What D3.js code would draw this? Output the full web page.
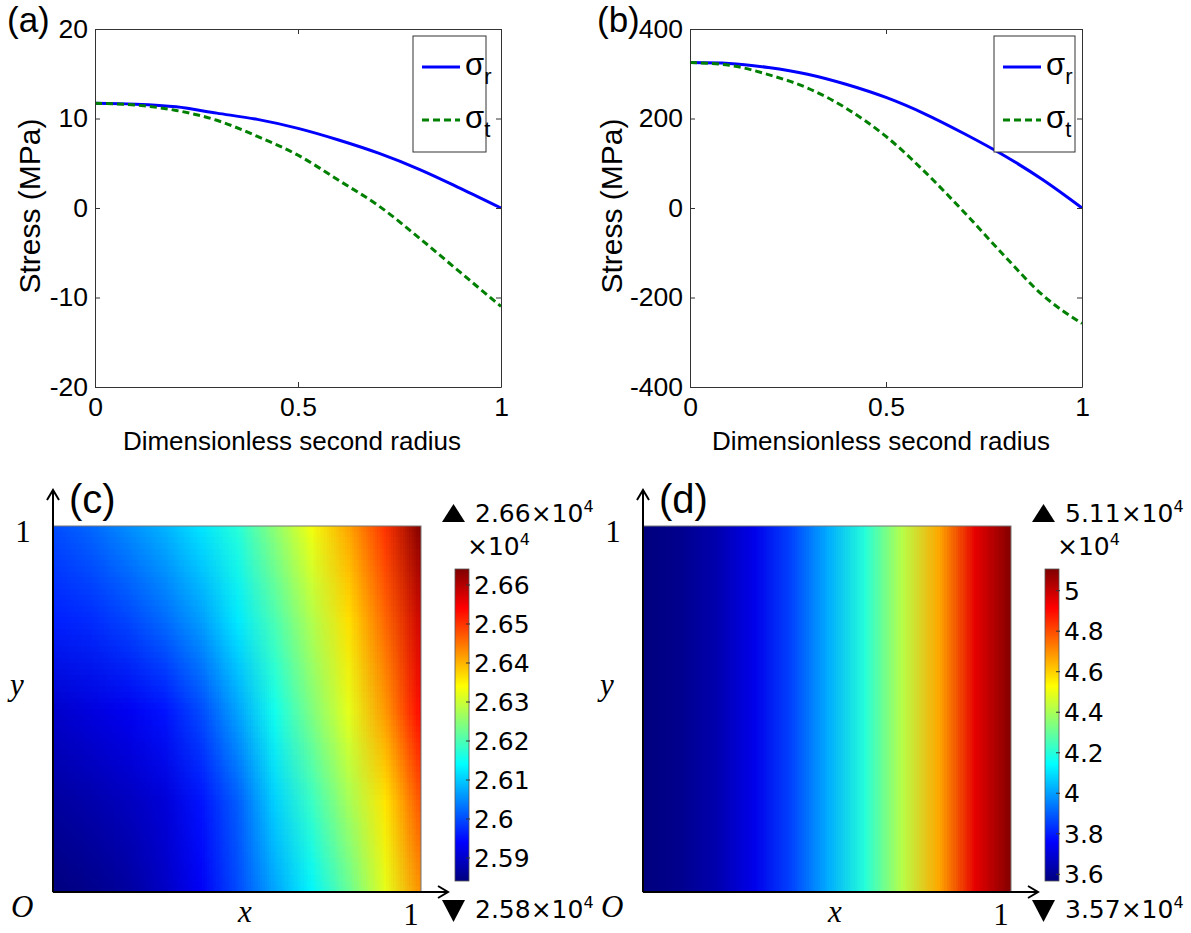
<!DOCTYPE html>
<html>
<head>
<meta charset="utf-8">
<script src="https://cdn.jsdelivr.net/npm/d3@7"></script>
<style>
  body { margin: 0; background: #fff; }
  svg { display: block; }
</style>
</head>
<body>
<div class="chart"></div>
<script>
// ---- line plots (a) and (b) ----
var radius = [0, 0.1, 0.2, 0.3, 0.4, 0.5, 0.6, 0.7, 0.8, 0.9, 1];
var sigmaRA = [11.7, 11.6, 11.3, 10.6, 9.9, 8.9, 7.6, 6.1, 4.3, 2.2, 0];
var sigmaTA = [11.7, 11.5, 10.9, 9.8, 8.0, 5.9, 3.1, 0.2, -3.4, -7.2, -11.0];
var sigmaRB = [325, 323, 314, 299, 276, 247, 210, 166, 118, 63, 0];
var sigmaTB = [325, 319, 298, 268, 222, 160, 80, -10, -105, -195, -258];
var xTicks = [0, 0.5, 1];
var yTicksA = [-20, -10, 0, 10, 20];
var yTicksB = [-400, -200, 0, 200, 400];

// ---- fields (c) and (d), values in units of 10^4 ----
var fieldX = [0, 0.1, 0.2, 0.3, 0.4, 0.5, 0.6, 0.7, 0.8, 0.9, 1];
var fieldYC = [1, 0.75, 0.5, 0.25, 0];
var fieldC = [
  [2.6000, 2.6020, 2.6050, 2.6080, 2.6120, 2.6170, 2.6250, 2.6330, 2.6410, 2.6500, 2.6641],
  [2.5965, 2.5975, 2.5995, 2.6025, 2.6065, 2.6125, 2.6200, 2.6280, 2.6365, 2.6460, 2.6580],
  [2.5900, 2.5915, 2.5930, 2.5955, 2.6000, 2.6070, 2.6155, 2.6240, 2.6320, 2.6420, 2.6540],
  [2.5865, 2.5875, 2.5890, 2.5910, 2.5955, 2.6015, 2.6105, 2.6185, 2.6270, 2.6360, 2.6480],
  [2.5841, 2.5850, 2.5865, 2.5895, 2.5935, 2.6000, 2.6070, 2.6135, 2.6220, 2.6320, 2.6430]
];
var fieldYD = [1];
var fieldD = [
  [3.567, 3.590, 3.640, 3.730, 3.860, 4.020, 4.200, 4.420, 4.660, 4.950, 5.107]
];
var cbarTicksC = [2.59, 2.6, 2.61, 2.62, 2.63, 2.64, 2.65, 2.66];
var cbarTicksD = [3.6, 3.8, 4, 4.2, 4.4, 4.6, 4.8, 5];

var jetStops = [0, 0.125, 0.375, 0.625, 0.875, 1];
var jetColors = ['#00007f', '#0000ff', '#00ffff', '#ffff00', '#ff0000', '#7f0000'];

var SANS = '"Liberation Sans", Arial, sans-serif';
var SERIF = '"Liberation Serif", "Times New Roman", serif';
var DEJA = '"DejaVu Sans", sans-serif';

var svg = d3.select('.chart').append('svg')
    .attr('width', 1191)
    .attr('height', 933);
svg.append('rect').attr('width', 1191).attr('height', 933).attr('fill', '#fff');

function plain(d) { return String(d); }
function blank() { return ''; }

function drawPlot(p) {
  var g = svg.append('g').attr('transform', 'translate(' + p.left + ',' + p.top + ')');
  var x = d3.scaleLinear().domain([0, 1]).range([0, p.width]);
  var y = d3.scaleLinear().domain(d3.extent(p.yTicks)).range([p.height, 0]);

  // curves
  var line = d3.line()
      .x(function(d) { return x(d[0]); })
      .y(function(d) { return y(d[1]); })
      .curve(d3.curveMonotoneX);
  g.append('path')
      .datum(d3.zip(radius, p.sr))
      .attr('d', line)
      .attr('fill', 'none')
      .attr('stroke', '#0000ff')
      .attr('stroke-width', 3);
  g.append('path')
      .datum(d3.zip(radius, p.st))
      .attr('d', line)
      .attr('fill', 'none')
      .attr('stroke', '#008000')
      .attr('stroke-width', 3)
      .attr('stroke-dasharray', '7,4');

  // matlab style box with inward ticks
  var axes = [
    g.append('g').attr('transform', 'translate(0,' + p.height + ')')
      .call(d3.axisBottom(x).tickValues(xTicks).tickFormat(plain).tickSizeInner(-5).tickSizeOuter(0).tickPadding(10)),
    g.append('g')
      .call(d3.axisTop(x).tickValues(xTicks).tickFormat(blank).tickSizeInner(-5).tickSizeOuter(0)),
    g.append('g')
      .call(d3.axisLeft(y).tickValues(p.yTicks).tickFormat(plain).tickSizeInner(-5).tickSizeOuter(0).tickPadding(7)),
    g.append('g').attr('transform', 'translate(' + p.width + ',0)')
      .call(d3.axisRight(y).tickValues(p.yTicks).tickFormat(blank).tickSizeInner(-5).tickSizeOuter(0))
  ];
  axes.forEach(function(a) {
    a.attr('font-family', SANS).attr('font-size', 26.5);
    a.selectAll('path, line').attr('stroke', '#333');
    a.selectAll('text').attr('fill', '#000');
  });

  // labels
  g.append('text')
      .attr('x', p.xLabelX).attr('y', 421)
      .attr('text-anchor', 'middle')
      .attr('font-family', SANS).attr('font-size', 26)
      .text('Dimensionless second radius');
  g.append('text')
      .attr('transform', 'translate(' + p.yLabelX + ',' + (p.height / 2 - 2) + ') rotate(-90)')
      .attr('text-anchor', 'middle')
      .attr('font-family', SANS).attr('font-size', 30)
      .text('Stress (MPa)');
  svg.append('text')
      .attr('x', p.tagX).attr('y', 32)
      .attr('font-family', SANS).attr('font-size', 35)
      .text(p.tag);

  // legend
  var lg = svg.append('g').attr('transform', 'translate(' + p.legendX + ',36)');
  lg.append('rect')
      .attr('width', p.legendW).attr('height', 116)
      .attr('fill', '#fff').attr('stroke', '#333');
  var items = [
    { sub: 'r', color: '#0000ff', dash: null, y: 31 },
    { sub: 't', color: '#008000', dash: '7,4', y: 84 }
  ];
  items.forEach(function(it) {
    lg.append('line')
        .attr('x1', 9).attr('x2', 47).attr('y1', it.y).attr('y2', it.y)
        .attr('stroke', it.color).attr('stroke-width', 3)
        .attr('stroke-dasharray', it.dash);
    var t = lg.append('text')
        .attr('x', 52).attr('y', it.y + 8)
        .attr('font-family', SANS).attr('font-size', 31)
        .text('σ');
    t.append('tspan').attr('dy', 9).attr('font-size', 22).text(it.sub);
  });
}

drawPlot({ left: 95, top: 29, width: 406, height: 358, yTicks: yTicksA, sr: sigmaRA, st: sigmaTA,
  xLabelX: 197, yLabelX: -55, tag: '(a)', tagX: 7, legendX: 413, legendW: 73 });
drawPlot({ left: 690, top: 29, width: 392, height: 358, yTicks: yTicksB, sr: sigmaRB, st: sigmaTB,
  xLabelX: 191, yLabelX: -68, tag: '(b)', tagX: 597, legendX: 994, legendW: 81 });

// ---- colour fields ----
function fieldImage(grid, color, w, h) {
  var rows = grid.length, cols = grid[0].length;
  var src = document.createElement('canvas');
  src.width = cols; src.height = rows;
  var sctx = src.getContext('2d');
  var img = sctx.createImageData(cols, rows);
  grid.forEach(function(row, j) {
    row.forEach(function(v, i) {
      var c = d3.rgb(color(v));
      var k = 4 * (j * cols + i);
      img.data[k] = c.r; img.data[k + 1] = c.g; img.data[k + 2] = c.b; img.data[k + 3] = 255;
    });
  });
  sctx.putImageData(img, 0, 0);
  var out = document.createElement('canvas');
  out.width = Math.round(w); out.height = Math.round(h);
  var ctx = out.getContext('2d');
  ctx.imageSmoothingEnabled = true;
  ctx.imageSmoothingQuality = 'low';
  var sy = rows > 1 ? 0.5 : 0, sh = rows > 1 ? rows - 1 : 1;
  ctx.drawImage(src, 0.5, sy, cols - 1, sh, 0, 0, out.width, out.height);
  return out.toDataURL();
}

function supText(sel, x, y, main) {
  var t = sel.append('text').attr('x', x).attr('y', y)
      .attr('font-family', DEJA).attr('font-size', 25).text(main);
  t.append('tspan').attr('dy', -10).attr('font-size', 16).text('4');
}

function drawField(p) {
  var g = svg.append('g').attr('transform', 'translate(' + p.dx + ',0)');
  var ext = d3.extent(d3.merge(p.grid));
  var color = d3.scaleLinear()
      .domain(jetStops.map(function(t) { return ext[0] + t * (ext[1] - ext[0]); }))
      .range(jetColors)
      .clamp(true);
  var x = d3.scaleLinear().domain([0, 1]).range([53, 421]);
  var y = d3.scaleLinear().domain([0, 1]).range([892, 526]);

  var x0 = x(fieldX[0]), x1 = x(fieldX[fieldX.length - 1]);
  var yTop = y(1), yBot = y(0);
  g.append('image')
      .attr('x', x0).attr('y', yTop)
      .attr('width', x1 - x0).attr('height', yBot - yTop)
      .attr('preserveAspectRatio', 'none')
      .attr('href', fieldImage(p.grid, color, x1 - x0, yBot - yTop));
  g.append('rect')
      .attr('x', x0).attr('y', yTop)
      .attr('width', x1 - x0).attr('height', yBot - yTop)
      .attr('fill', 'none').attr('stroke', '#777').attr('stroke-width', 1);

  // arrow axes
  g.append('path')
      .attr('d', 'M' + x0 + ',' + yBot + 'V490M' + (x0 - 6) + ',500L' + x0 + ',490L' + (x0 + 6) + ',500')
      .attr('fill', 'none').attr('stroke', '#000').attr('stroke-width', 2);
  g.append('path')
      .attr('d', 'M' + x0 + ',' + yBot + 'H448M438,' + (yBot - 6) + 'L448,' + yBot + 'L438,' + (yBot + 6))
      .attr('fill', 'none').attr('stroke', '#000').attr('stroke-width', 2);

  var serif = function(tx, ty, s, italic, anchor) {
    g.append('text').attr('x', tx).attr('y', ty)
        .attr('font-family', SERIF).attr('font-size', 31)
        .attr('font-style', italic ? 'italic' : 'normal')
        .attr('text-anchor', anchor || 'middle')
        .text(s);
  };
  serif(23, 542, '1', false);
  serif(17, 695, 'y', true);
  serif(11, 917, 'O', true, 'start');
  serif(245, 922, 'x', true);
  serif(411, 925, '1', false);

  g.append('text').attr('x', 69).attr('y', 513)
      .attr('font-family', SANS).attr('font-size', 40)
      .text(p.tag);

  // colour bar
  var cy = d3.scaleLinear().domain(ext).range([881, 569]);
  var gid = 'jet' + p.tag.replace(/\W/g, '');
  var grad = svg.append('defs').append('linearGradient')
      .attr('id', gid).attr('x1', 0).attr('y1', 1).attr('x2', 0).attr('y2', 0);
  jetStops.forEach(function(t, i) {
    grad.append('stop').attr('offset', t).attr('stop-color', jetColors[i]);
  });
  g.append('rect')
      .attr('x', 455).attr('y', cy(ext[1]))
      .attr('width', 14).attr('height', cy(ext[0]) - cy(ext[1]))
      .attr('fill', 'url(#' + gid + ')')
      .attr('stroke', '#555').attr('stroke-width', 0.8);
  p.ticks.forEach(function(v) {
    g.append('line')
        .attr('x1', 466).attr('x2', 470).attr('y1', cy(v)).attr('y2', cy(v))
        .attr('stroke', '#333').attr('stroke-width', 1);
    g.append('text')
        .attr('x', 474).attr('y', cy(v)).attr('dy', '0.36em')
        .attr('font-family', DEJA).attr('font-size', 25)
        .text(plain(v));
  });

  var f2 = d3.format('.2f');
  g.append('path').attr('d', 'M442,522L465,522L453.5,504Z').attr('fill', '#000');
  supText(g, 475, 522, f2(ext[1]) + '×10');
  supText(g, 467, 555, '×10');
  g.append('path').attr('d', 'M442,900L465,900L453.5,922Z').attr('fill', '#000');
  supText(g, 475, 918, f2(ext[0]) + '×10');
}

drawField({ dx: 0, grid: fieldC, ticks: cbarTicksC, tag: '(c)' });
drawField({ dx: 590, grid: fieldD, ticks: cbarTicksD, tag: '(d)' });
</script>
</body>
</html>
